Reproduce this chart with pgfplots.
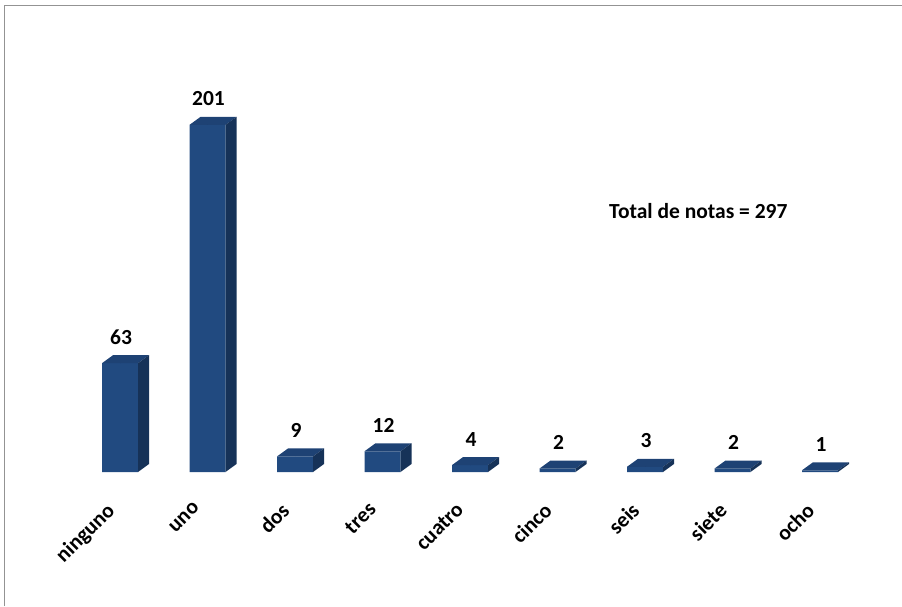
\documentclass[border=0pt]{standalone}
\usepackage{pgfplots}
\pgfplotsset{compat=1.18}
\usepackage{pgfplotstable}
\usepackage{fontspec}
\setmainfont{Carlito}
\definecolor{frontc}{RGB}{33,74,128}
\definecolor{topc}{RGB}{30,66,116}
\definecolor{sidec}{RGB}{22,50,88}
\newcommand{\lbl}{\fontsize{21.5}{24}\selectfont\bfseries}
\pgfplotstableread{
x y
0 63
1 201
2 9
3 12
4 4
5 2
6 3
7 2
8 1
}\datos
\begin{document}
\begin{tikzpicture}[x=1pt,y=1pt]
\useasboundingbox (0,0) rectangle (902,606);
\draw[gray!85, line width=1.5pt] (4.5,0) -- (4.5,600.5) -- (905,600.5);
\begin{axis}[
  at={(120pt,134pt)}, anchor=origin,
  x=87.5pt, y=1.727pt,
  xmin=-0.8, xmax=8.8, ymin=0, ymax=215,
  axis lines*=left,
  axis line style={draw=none},
  tick style={draw=none},
  major tick length=0pt,
  ytick=\empty,
  xtick=data,
  xticklabels={ninguno,uno,dos,tres,cuatro,cinco,seis,siete,ocho},
  xticklabel style={font=\lbl, xshift=-15pt, yshift=-29pt, rotate=45, anchor=north east, inner sep=0pt},
  clip=false,
  /pgf/number format/assume math mode=true,
]
\addplot[ybar, bar width=36pt, fill=frontc, draw=none,
  nodes near coords,
  every node near coord/.append style={font=\lbl, text=black, anchor=base, yshift=19pt, xshift=1pt, inner sep=0pt}]
  table[x=x,y=y]{\datos};
\addplot[scatter, only marks, mark=*, mark size=0pt, draw=none, fill=none,
  visualization depends on={\thisrow{y}\as\ry},
  scatter/@pre marker code/.code={%
    \pgfmathsetlengthmacro\hh{\ry*1.727pt}%
    \fill[topc] (-18pt,0pt) -- (-7pt,8pt) -- (29pt,8pt) -- (18pt,0pt) -- cycle;
    \fill[sidec] (18pt,0pt) -- (29pt,8pt) -- (29pt,8pt-\hh) -- (18pt,-\hh) -- cycle;
  },
  scatter/@post marker code/.code={}]
  table[x=x,y=y]{\datos};
\end{axis}
\node[anchor=base west, font=\lbl, inner sep=0pt] at (609,387) {Total de notas = 297};
\end{tikzpicture}
\end{document}
